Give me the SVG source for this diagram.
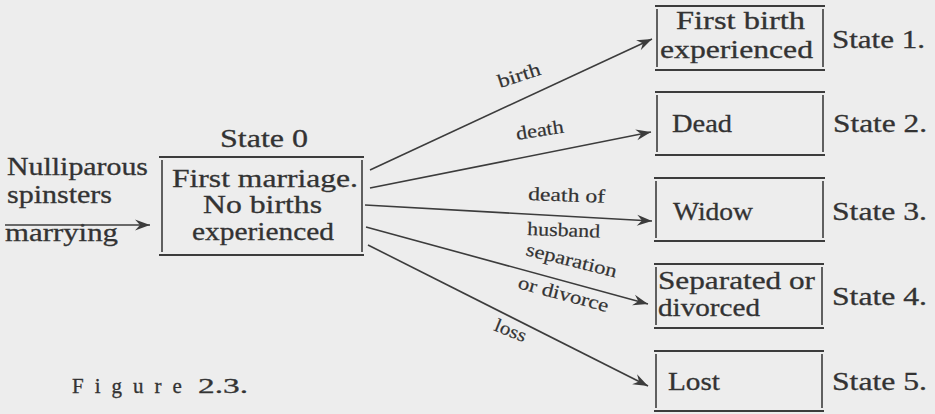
<svg xmlns="http://www.w3.org/2000/svg" width="935" height="414" viewBox="0 0 935 414" font-family="'Liberation Serif', 'DejaVu Serif', serif">
<style>
  text { fill: #333333; stroke: #333333; stroke-width: 0.3; }
  .t { font-size: 25px; }
  .lab { font-size: 19px; stroke-width: 0.2; }
  .h { stroke: #3c3c3c; stroke-width: 2; fill: none; }
  .v { stroke: #3c3c3c; stroke-width: 1.6; fill: none; }
  .c { stroke: #3c3c3c; stroke-width: 1.6; fill: none; marker-end: url(#ah); }
</style>
<defs>
  <marker id="ah" markerUnits="userSpaceOnUse" markerWidth="20" markerHeight="14" viewBox="-16 -7 20 14" refX="0" refY="0" orient="auto" overflow="visible">
    <path d="M0,0 L-15,-5.5 L-10,0 L-15,5.5 Z" fill="#3c3c3c"/>
  </marker>
</defs>
<rect x="0" y="0" width="935" height="414" fill="#ededed"/>

<g id="source">
  <text class="t" x="7" y="175" textLength="141" lengthAdjust="spacingAndGlyphs">Nulliparous</text>
  <text class="t" x="7" y="203" textLength="105" lengthAdjust="spacingAndGlyphs">spinsters</text>
  <text class="t" x="5" y="241" textLength="113" lengthAdjust="spacingAndGlyphs">marrying</text>
</g>

<g id="state0">
  <text class="t" x="220" y="147" textLength="88" lengthAdjust="spacingAndGlyphs">State 0</text>
  <line class="h" x1="159" y1="157" x2="364" y2="157"/>
  <line class="h" x1="159" y1="255" x2="364" y2="255"/>
  <line class="v" x1="162" y1="160" x2="162" y2="252"/>
  <line class="v" x1="362" y1="160" x2="362" y2="252"/>
  <text class="t" x="172" y="187" textLength="186" lengthAdjust="spacingAndGlyphs">First marriage.</text>
  <text class="t" x="203" y="213" textLength="119" lengthAdjust="spacingAndGlyphs">No births</text>
  <text class="t" x="192" y="240" textLength="142" lengthAdjust="spacingAndGlyphs">experienced</text>
</g>

<g id="state1">
  <line class="h" x1="655" y1="6" x2="825" y2="6"/>
  <line class="h" x1="655" y1="70" x2="825" y2="70"/>
  <line class="v" x1="657" y1="9" x2="657" y2="67"/>
  <line class="v" x1="823" y1="9" x2="823" y2="67"/>
  <text class="t" x="676" y="29" textLength="129" lengthAdjust="spacingAndGlyphs">First birth</text>
  <text class="t" x="660" y="58" textLength="153" lengthAdjust="spacingAndGlyphs">experienced</text>
  <text class="t" x="832" y="48" textLength="93" lengthAdjust="spacingAndGlyphs">State 1.</text>
</g>

<g id="state2">
  <line class="h" x1="655" y1="92" x2="825" y2="92"/>
  <line class="h" x1="655" y1="155" x2="825" y2="155"/>
  <line class="v" x1="657" y1="95" x2="657" y2="152"/>
  <line class="v" x1="823" y1="95" x2="823" y2="152"/>
  <text class="t" x="672" y="132" textLength="60" lengthAdjust="spacingAndGlyphs">Dead</text>
  <text class="t" x="833" y="132" textLength="94" lengthAdjust="spacingAndGlyphs">State 2.</text>
</g>

<g id="state3">
  <line class="h" x1="654" y1="178" x2="825" y2="178"/>
  <line class="h" x1="654" y1="241" x2="825" y2="241"/>
  <line class="v" x1="656" y1="181" x2="656" y2="238"/>
  <line class="v" x1="823" y1="181" x2="823" y2="238"/>
  <text class="t" x="673" y="220" textLength="80" lengthAdjust="spacingAndGlyphs">Widow</text>
  <text class="t" x="832" y="220" textLength="95" lengthAdjust="spacingAndGlyphs">State 3.</text>
</g>

<g id="state4">
  <line class="h" x1="654" y1="264" x2="824" y2="264"/>
  <line class="h" x1="654" y1="328" x2="824" y2="328"/>
  <line class="v" x1="656" y1="267" x2="656" y2="325"/>
  <line class="v" x1="822" y1="267" x2="822" y2="325"/>
  <text class="t" x="658" y="289" textLength="157" lengthAdjust="spacingAndGlyphs">Separated or</text>
  <text class="t" x="658" y="316" textLength="102" lengthAdjust="spacingAndGlyphs">divorced</text>
  <text class="t" x="832" y="305" textLength="95" lengthAdjust="spacingAndGlyphs">State 4.</text>
</g>

<g id="state5">
  <line class="h" x1="654" y1="351" x2="824" y2="351"/>
  <line class="h" x1="654" y1="411" x2="824" y2="411"/>
  <line class="v" x1="656" y1="354" x2="656" y2="408"/>
  <line class="v" x1="822" y1="354" x2="822" y2="408"/>
  <text class="t" x="668" y="390" textLength="52" lengthAdjust="spacingAndGlyphs">Lost</text>
  <text class="t" x="832" y="390" textLength="95" lengthAdjust="spacingAndGlyphs">State 5.</text>
</g>

<g id="connectors">
  <line class="c" x1="5" y1="225" x2="150" y2="225"/>
  <line class="c" x1="370" y1="170" x2="652" y2="39"/>
  <line class="c" x1="370" y1="188" x2="651" y2="132"/>
  <line class="c" x1="365" y1="205" x2="652" y2="221"/>
  <line class="c" x1="366" y1="227" x2="648" y2="304"/>
  <line class="c" x1="368" y1="245" x2="648" y2="386"/>
  <text class="lab" x="500" y="88" transform="rotate(-18 500 88)" textLength="44" lengthAdjust="spacingAndGlyphs">birth</text>
  <text class="lab" x="517" y="140" transform="rotate(-9 517 140)" textLength="48" lengthAdjust="spacingAndGlyphs">death</text>
  <text class="lab" x="528" y="200" transform="rotate(2 528 200)" textLength="77" lengthAdjust="spacingAndGlyphs">death of</text>
  <text class="lab" x="527" y="235" transform="rotate(2 527 235)" textLength="73" lengthAdjust="spacingAndGlyphs">husband</text>
  <text class="lab" x="525" y="255" transform="rotate(14 525 255)" textLength="93" lengthAdjust="spacingAndGlyphs">separation</text>
  <text class="lab" x="517" y="288" transform="rotate(15 517 288)" textLength="93" lengthAdjust="spacingAndGlyphs">or divorce</text>
  <text class="lab" x="493" y="330" transform="rotate(22 493 330)" textLength="33" lengthAdjust="spacingAndGlyphs">loss</text>
</g>

<g id="caption">
  <text x="72" y="393" font-size="21" letter-spacing="11">Figure</text>
  <text x="198" y="393" font-size="21" textLength="50" lengthAdjust="spacingAndGlyphs">2.3.</text>
</g>
</svg>
